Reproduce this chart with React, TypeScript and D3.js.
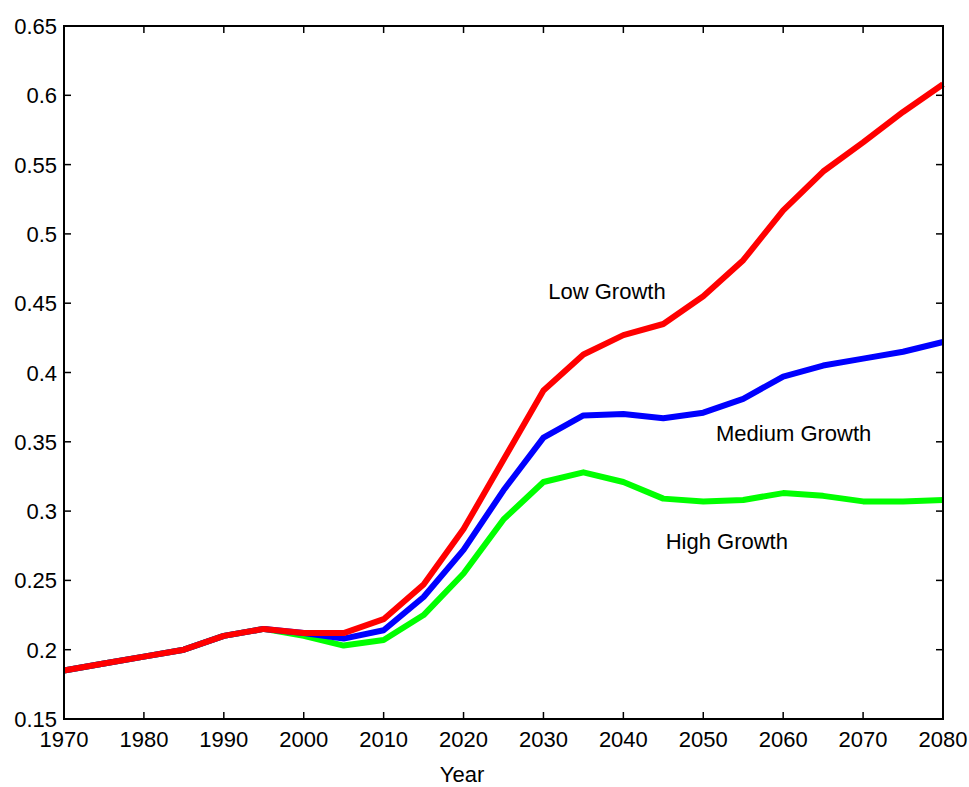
import React, { useEffect, useRef } from "react";
import * as d3 from "d3";

const years = [1970, 1975, 1980, 1985, 1990, 1995, 2000, 2005, 2010, 2015, 2020, 2025, 2030, 2035, 2040, 2045, 2050, 2055, 2060, 2065, 2070, 2075, 2080];
const lowGrowth = [0.185, 0.19, 0.195, 0.2, 0.21, 0.215, 0.212, 0.212, 0.222, 0.247, 0.287, 0.337, 0.387, 0.413, 0.427, 0.435, 0.455, 0.481, 0.517, 0.545, 0.566, 0.588, 0.608];
const mediumGrowth = [0.185, 0.19, 0.195, 0.2, 0.21, 0.215, 0.212, 0.208, 0.214, 0.238, 0.272, 0.315, 0.353, 0.369, 0.37, 0.367, 0.371, 0.381, 0.397, 0.405, 0.41, 0.415, 0.422];
const highGrowth = [0.185, 0.19, 0.195, 0.2, 0.21, 0.215, 0.21, 0.203, 0.207, 0.225, 0.255, 0.294, 0.321, 0.328, 0.321, 0.309, 0.307, 0.308, 0.313, 0.311, 0.307, 0.307, 0.308];
const xTicks = [1970, 1980, 1990, 2000, 2010, 2020, 2030, 2040, 2050, 2060, 2070, 2080];
const yTicks = [0.15, 0.2, 0.25, 0.3, 0.35, 0.4, 0.45, 0.5, 0.55, 0.6, 0.65];
const seriesNames = ["High Growth", "Medium Growth", "Low Growth"];
const seriesColors = ["#00ff00", "#0000ff", "#ff0000"];
const labelPos = [
  { year: 2045.3, value: 0.2727 },
  { year: 2051.6, value: 0.3506 },
  { year: 2030.6, value: 0.453 },
];

const W = 969, H = 787;
const M = { left: 64, right: 26, top: 26, bottom: 68 };
const FONT = "'Liberation Sans', Arial, sans-serif";
const FS = 22;

export default function App() {
  const ref = useRef<SVGSVGElement>(null);
  useEffect(() => {
    const svg = d3.select(ref.current);
    svg.selectAll("*").remove();
    const x = d3.scaleLinear().domain([1970, 2080]).range([M.left, W - M.right]);
    const y = d3.scaleLinear().domain([0.15, 0.65]).range([H - M.bottom, M.top]);
    const g = svg.append("g");
    const tl = 7;
    const fmt = (d: number) => String(+d.toFixed(2));

    xTicks.forEach((t) => {
      g.append("line").attr("x1", x(t)).attr("x2", x(t)).attr("y1", y(0.15)).attr("y2", y(0.15) - tl).attr("stroke", "#000").attr("stroke-width", 1.5);
      g.append("line").attr("x1", x(t)).attr("x2", x(t)).attr("y1", y(0.65)).attr("y2", y(0.65) + tl).attr("stroke", "#000").attr("stroke-width", 1.5);
      g.append("text").attr("x", x(t)).attr("y", y(0.15) + 28).attr("text-anchor", "middle").attr("font-family", FONT).attr("font-size", FS).attr("fill", "#000").text(t);
    });
    yTicks.forEach((t) => {
      g.append("line").attr("x1", x(1970)).attr("x2", x(1970) + tl).attr("y1", y(t)).attr("y2", y(t)).attr("stroke", "#000").attr("stroke-width", 1.5);
      g.append("line").attr("x1", x(2080)).attr("x2", x(2080) - tl).attr("y1", y(t)).attr("y2", y(t)).attr("stroke", "#000").attr("stroke-width", 1.5);
      g.append("text").attr("x", x(1970) - 7).attr("y", y(t) + 8).attr("text-anchor", "end").attr("font-family", FONT).attr("font-size", FS).attr("fill", "#000").text(fmt(t));
    });

    const all = [highGrowth, mediumGrowth, lowGrowth];
    const line = d3.line<number>().x((_, i) => x(years[i])).y((d) => y(d));
    all.forEach((s, k) => {
      g.append("path").attr("d", line(s)!).attr("fill", "none").attr("stroke", seriesColors[k]).attr("stroke-width", 6).attr("stroke-linejoin", "round");
    });

    g.append("rect").attr("x", x(1970)).attr("y", y(0.65)).attr("width", x(2080) - x(1970)).attr("height", y(0.15) - y(0.65)).attr("fill", "none").attr("stroke", "#000").attr("stroke-width", 2);

    seriesNames.forEach((n, k) => {
      g.append("text").attr("x", x(labelPos[k].year)).attr("y", y(labelPos[k].value)).attr("font-family", FONT).attr("font-size", FS).attr("fill", "#000").text(n);
    });

    g.append("text").attr("x", 462).attr("y", H - 5).attr("text-anchor", "middle").attr("font-family", FONT).attr("font-size", FS).attr("fill", "#000").text("Year");
  }, []);
  return (
    <div style={{ position: "absolute", left: 0, top: 0 }}>
      <svg ref={ref} width={W} height={H} style={{ display: "block", background: "#fff" }} />
    </div>
  );
}
